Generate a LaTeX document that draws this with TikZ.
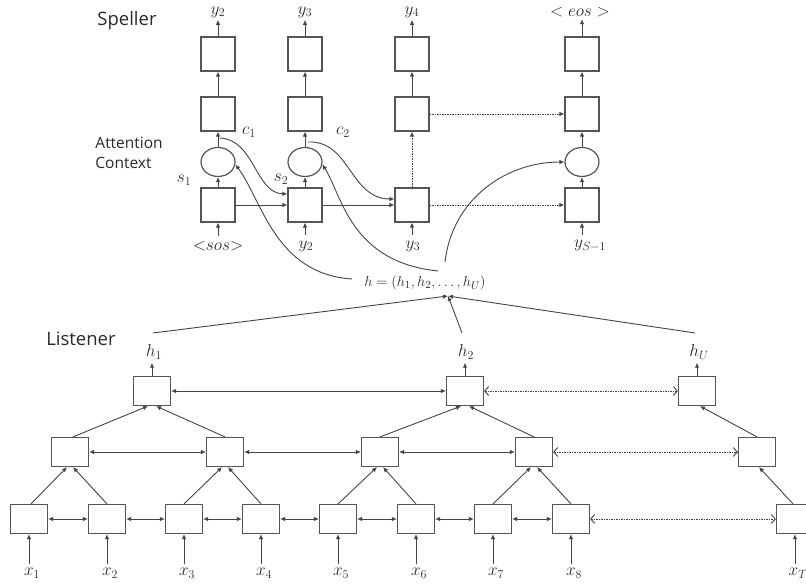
\documentclass[tikz,border=0pt]{standalone}
\usepackage{fontspec}
\setsansfont{Open Sans}
\usetikzlibrary{arrows.meta,shapes.geometric,calc}
\definecolor{boxc}{HTML}{555555}
\definecolor{linec}{HTML}{444444}
\definecolor{txtc}{HTML}{2A2A2A}
\begin{document}
\begin{tikzpicture}[x=1pt,y=-1pt,
  line width=0.9pt,
  sbox/.style={draw=boxc, line width=1.2pt, minimum width=34pt, minimum height=34pt, inner sep=0pt},
  lbox/.style={draw=boxc, line width=1.2pt, minimum width=37pt, minimum height=29pt, inner sep=0pt},
  att/.style={draw=boxc, line width=1.2pt, ellipse, minimum width=34pt, minimum height=29pt, inner sep=0pt},
  arr/.style={draw=linec, -{Latex[length=5pt,width=4.5pt]}},
  barr/.style={draw=linec, {Latex[length=5pt,width=4.5pt]}-{Latex[length=5pt,width=4.5pt]}},
  darr/.style={draw=linec, dash pattern=on 1.5pt off 1pt, -{Latex[length=5pt,width=4.5pt]}},
  dbarr/.style={draw=linec, dash pattern=on 1.5pt off 1pt, {Straight Barb[length=4pt,width=9pt]}-{Straight Barb[length=4pt,width=9pt]}},
  mlab/.style={font=\fontsize{16.5}{19}\selectfont, text=txtc, inner sep=0pt},
  hlab/.style={font=\fontsize{15}{18}\selectfont, text=txtc, inner sep=0pt},
  ttl/.style={font=\sffamily\fontsize{18.5}{22}\selectfont, text=txtc, inner sep=0pt},
  sttl/.style={font=\sffamily\fontsize{15.5}{20}\selectfont, text=txtc, inner sep=0pt, anchor=west},
]
\useasboundingbox (0,0) rectangle (806,585);

% ---------- Speller ----------
\node[ttl] (speller) at (127,21) {Speller};
\node[sttl] (att1) at (95,143) {Attention};
\node[sttl] (att2) at (95,163) {Context};

\foreach \n/\x in {1/218,2/305,3/412,4/582}{
  \node[sbox] (o\n) at (\x,54) {};
  \node[sbox] (m\n) at (\x,114) {};
  \node[sbox] (b\n) at (\x,205) {};
}
\node[att] (e1) at (218,162) {};
\node[att] (e2) at (305,162) {};
\node[att] (e4) at (582,162) {};

\node[mlab] (ty1) at (218,12) {$y_2$};
\node[mlab] (ty2) at (305,12) {$y_3$};
\node[mlab] (ty3) at (412,12) {$y_4$};
\node[mlab] (ty4) at (580,12) {$<eos>$};

\node[mlab] (by1) at (218,246) {${<}sos{>}$};
\node[mlab] (by2) at (306,246) {$y_2$};
\node[mlab] (by3) at (413,246) {$y_3$};
\node[mlab] (by4) at (590,246) {$y_{S-1}$};

\foreach \n in {1,2,3,4}{
  \draw[arr] (o\n.north) -- ($(o\n.north |- ty\n.south)+(0,2)$);
  \draw[arr] (m\n.north) -- (o\n.south);
  \draw[arr] ($(b\n.south |- by\n.north)+(0,-5)$) -- (b\n.south);
}
\foreach \n in {1,2,4}{
  \draw[arr] (b\n.north) -- (e\n.south);
  \draw[arr] (e\n.north) -- (m\n.south);
}
\draw[darr] (b3.north) -- (m3.south);

\draw[arr] (b1.east) -- (b2.west);
\draw[arr] (b2.east) -- (b3.west);
\draw[darr] (b3.east) -- (b4.west);
\draw[darr] (m3.east) -- (m4.west);

\coordinate (c1s) at (220,138);
\coordinate (c2s) at (308,142);
\draw[arr] (c1s) .. controls (255,140) and (255,193) .. ([yshift=11pt]b2.west);
\draw[arr] (c2s) .. controls (350,140) and (350,199) .. ([yshift=6pt]b3.west);

\node[mlab] (c1) at (249,132) {$c_1$};
\node[mlab] (c2) at (343,132) {$c_2$};
\node[mlab] (s1) at (184,180) {$s_1$};
\node[mlab] (s2) at (281,179) {$s_2$};

% ---------- h ----------
\node[hlab] (h) at (425,283) {$h=(h_1,h_2,\ldots,h_U)$};
\coordinate (hs1) at (352,279);
\coordinate (hs2) at (438,271);
\coordinate (hs4) at (445,262);
\draw[arr] (hs1) .. controls (275,274) and (262,200) .. (e1.-8);
\draw[arr] (hs2) .. controls (350,262) and (342,195) .. (e2.-8);
\draw[arr] (hs4) .. controls (452,200) and (505,162) .. (e4.west);

% ---------- Listener ----------
\node[ttl] (listener) at (81,339) {Listener};

\foreach \n/\x in {1/29,2/107,3/184,4/261,5/338,6/416,7/493,8/571,T/795}{
  \node[lbox] (l\n) at (\x,519) {};
  \node[mlab] (xl\n) at (\x+3,573) {$x_{\n}$};
  \draw[arr] ($(l\n.south |- xl\n.north)+(0,-4)$) -- (l\n.south);
}
\foreach \n/\x in {1/70,2/225,3/380,4/534,5/757}{
  \node[lbox] (p\n) at (\x,452) {};
}
\node[lbox] (t1) at (152,391) {};
\node[lbox] (t2) at (465,391) {};
\node[lbox] (tU) at (697,391) {};

\node[mlab] (hl1) at (154,352) {$h_1$};
\node[mlab] (hl2) at (466,352) {$h_2$};
\node[mlab] (hlU) at (699,352) {$h_U$};
\draw[arr] (t1.north) -- ($(t1.north |- hl1.south)+(0,3)$);
\draw[arr] (t2.north) -- ($(t2.north |- hl2.south)+(0,3)$);
\draw[arr] (tU.north) -- ($(tU.north |- hlU.south)+(0,3)$);

% horizontal bidirectional
\draw[barr] (l1.east) -- (l2.west);
\draw[barr] (l2.east) -- (l3.west);
\draw[barr] (l3.east) -- (l4.west);
\draw[barr] (l4.east) -- (l5.west);
\draw[barr] (l5.east) -- (l6.west);
\draw[barr] (l6.east) -- (l7.west);
\draw[barr] (l7.east) -- (l8.west);
\draw[dbarr] (l8.east) -- (lT.west);
\draw[barr] (p1.east) -- (p2.west);
\draw[barr] (p2.east) -- (p3.west);
\draw[barr] (p3.east) -- (p4.west);
\draw[dbarr] (p4.east) -- (p5.west);
\draw[barr] (t1.east) -- (t2.west);
\draw[dbarr] (t2.east) -- (tU.west);

% tree edges
\draw[arr] ([xshift=2pt]l1.north) -- ([xshift=-3pt]p1.south);
\draw[arr] (l2.north) -- ([xshift=3pt]p1.south);
\draw[arr] (l3.north) -- ([xshift=-3pt]p2.south);
\draw[arr] (l4.north) -- ([xshift=3pt]p2.south);
\draw[arr] (l5.north) -- ([xshift=-3pt]p3.south);
\draw[arr] (l6.north) -- ([xshift=3pt]p3.south);
\draw[arr] (l7.north) -- ([xshift=-3pt]p4.south);
\draw[arr] (l8.north) -- ([xshift=3pt]p4.south);
\draw[arr] ([xshift=-2pt]lT.north) -- ([xshift=2pt]p5.south);
\draw[arr] ([xshift=3pt]p1.north) -- ([xshift=-4pt]t1.south);
\draw[arr] (p2.north) -- ([xshift=4pt]t1.south);
\draw[arr] (p3.north) -- ([xshift=-4pt]t2.south);
\draw[arr] (p4.north) -- ([xshift=4pt]t2.south);
\draw[arr] (p5.north) -- ([xshift=3pt]tU.south);

% to h
\coordinate (hp) at (448,296);
\coordinate (g1) at (153,333);
\coordinate (g2) at (462,333);
\coordinate (gU) at (695,333);
\draw[arr] (g1) -- (hp);
\draw[arr] (g2) -- (hp);
\draw[arr] (gU) -- (hp);
\end{tikzpicture}
\end{document}
